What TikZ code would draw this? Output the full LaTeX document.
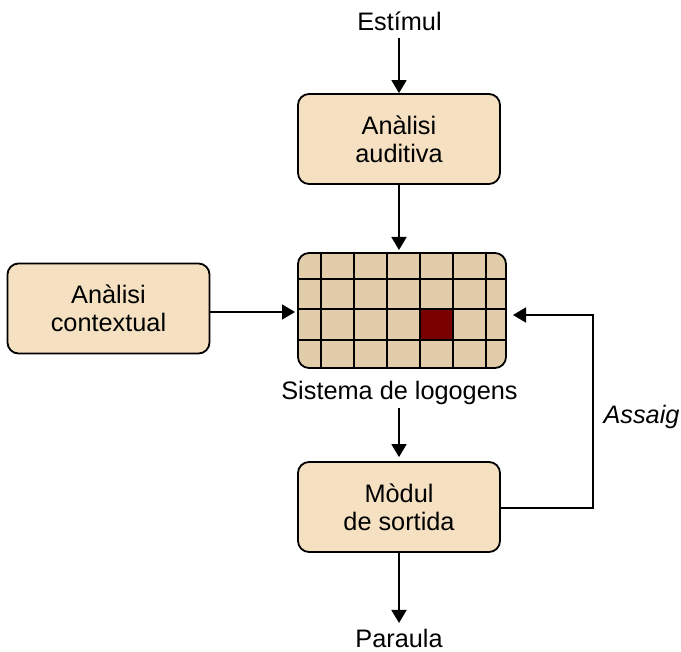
\documentclass[tikz,border=0pt]{standalone}
\usepackage{fontspec}
\setmainfont{Liberation Sans}
\usetikzlibrary{arrows.meta,calc}
\definecolor{boxfill}{HTML}{F5E1C1}
\definecolor{gridfill}{HTML}{E1CDAA}
\definecolor{hotcell}{HTML}{7A0000}
\begin{document}
\begin{tikzpicture}[x=1pt,y=-1pt,
  every node/.style={font=\fontsize{25.3}{28}\selectfont, inner sep=0pt},
  stagebox/.style={draw, line width=1.8pt, fill=boxfill, rounded corners=11pt,
    minimum width=202pt, minimum height=90pt, align=center},
  flow/.style={line width=1.8pt, -{Triangle[length=13pt,width=15pt]}},
  gridline/.style={line width=2pt}
]
\useasboundingbox (0,0) rectangle (681,652);

% processing stages
\node[stagebox] (aud) at (399,139) {Anàlisi\\auditiva};
\node[stagebox] (ctx) at (108.5,308.5) {Anàlisi\\contextual};
\node[stagebox] (out) at (399,507) {Mòdul\\de sortida};

% logogen system: a grid of units, one of them active
\node[fill=gridfill, rounded corners=11pt, outer sep=0pt,
  minimum width=208pt, minimum height=115pt] (grid) at (402,310.5) {};
\begin{scope}
  \clip[rounded corners=11pt] (grid.north west) rectangle (grid.south east);
  \fill[hotcell] (419.5,309.5) rectangle (452.5,340);
  \foreach \gx in {321,354,387,419.5,452.5,485.5}
    \draw[gridline] (\gx,253) -- (\gx,368);
  \foreach \gy in {279.5,309.5,340}
    \draw[gridline] (298,\gy) -- (506,\gy);
\end{scope}
\draw[line width=1.8pt, rounded corners=11pt] (grid.north west) rectangle (grid.south east);

% labels
\node[anchor=base] (stim) at (399.5,30.5) {Estímul};
\node[anchor=base] (sys) at (399.5,399.5) {Sistema de logogens};
\node[anchor=base] (word) at (399,647.5) {Paraula};
\node[anchor=base] (rehearse) at (641.5,423.5) {\itshape Assaig};

% connection points
\coordinate (stimEnd) at (399,38);
\coordinate (sysEnd) at (399,408);
\coordinate (ctxIn) at (298,312);
\coordinate (loopIn) at (506,315);
\coordinate (loopX) at (593,0);

% connectors
\draw[flow] (stimEnd) -- (aud.north);
\draw[flow, shorten >=3pt] (aud.south) -- (aud.south |- grid.north);
\draw[flow, shorten >=3pt] (ctx.east |- ctxIn) -- (ctxIn);
\draw[flow, shorten >=4pt] (sysEnd) -- (sysEnd |- out.north);
\draw[flow] (out.south) -- ($(word.north)+(0,-6)$);
\draw[flow, shorten >=7pt] ($(out.east)+(0,1.3)$) -| (loopX |- loopIn) -- (loopIn);
\end{tikzpicture}
\end{document}
